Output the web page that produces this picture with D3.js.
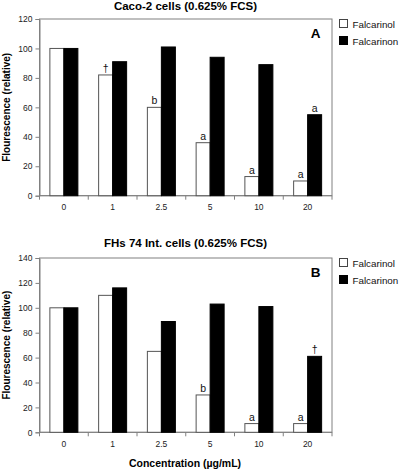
<!DOCTYPE html>
<html>
<head>
<meta charset="utf-8">
<script src="https://cdn.jsdelivr.net/npm/d3@7"></script>
<style>
  html, body { margin: 0; padding: 0; background: #fff; }
  svg { display: block; font-family: Arial, "Liberation Sans", sans-serif; }
</style>
</head>
<body>
<svg id="chart" width="400" height="471"></svg>
<script>
const categories = ["0", "1", "2.5", "5", "10", "20"];
const seriesNames = ["Falcarinol", "Falcarinon"];

const panelATitle = "Caco-2 cells (0.625% FCS)";
const panelAFalcarinol = [100, 82, 60, 36, 13, 10];
const panelAFalcarinon = [100, 91, 101, 94, 89, 55];
const panelAFalcarinolMarks = ["", "†", "b", "a", "a", "a"];
const panelAFalcarinonMarks = ["", "", "", "", "", "a"];
const panelAYTicks = [0, 20, 40, 60, 80, 100, 120];

const panelBTitle = "FHs 74 Int. cells (0.625% FCS)";
const panelBFalcarinol = [100, 110, 65, 30, 7, 7];
const panelBFalcarinon = [100, 116, 89, 103, 101, 61];
const panelBFalcarinolMarks = ["", "", "", "b", "a", "a"];
const panelBFalcarinonMarks = ["", "", "", "", "", "†"];
const panelBYTicks = [0, 20, 40, 60, 80, 100, 120, 140];

const svg = d3.select("#chart");
const left = 39.5, right = 332;
const frameColor = "#808080";

function drawPanel(cfg) {
  const g = svg.append("g");
  const x = d3.scaleBand().domain(categories).range([left, right]).paddingInner(0).paddingOuter(0);
  const y = d3.scaleLinear().domain([0, d3.max(cfg.yTicks)]).range([cfg.bottom, cfg.top]);
  const bw = 14;

  g.append("rect").attr("x", left).attr("y", cfg.top)
    .attr("width", right - left).attr("height", cfg.bottom - cfg.top)
    .attr("fill", "none").attr("stroke", frameColor).attr("stroke-width", 1);

  const yAxis = d3.axisLeft(y).tickValues(cfg.yTicks).tickSize(4).tickPadding(3);
  const ya = g.append("g").attr("transform", `translate(${left},0)`).call(yAxis);
  ya.select(".domain").attr("stroke", frameColor);
  ya.selectAll(".tick line").attr("stroke", frameColor);
  ya.selectAll(".tick text").attr("font-size", 8.5).attr("fill", "#222").attr("font-family", "Arial, 'Liberation Sans', sans-serif");

  const xa = g.append("g").attr("transform", `translate(0,${cfg.bottom})`);
  xa.append("line").attr("x1", left).attr("x2", right).attr("stroke", frameColor);
  const bounds = categories.map(c => x(c)).concat([x(categories[categories.length - 1]) + x.bandwidth()]);
  xa.selectAll("line.tk").data(bounds).enter().append("line").attr("class", "tk")
    .attr("x1", d => d).attr("x2", d => d).attr("y1", 0).attr("y2", 4).attr("stroke", frameColor);
  xa.selectAll("text").data(categories).enter().append("text")
    .attr("x", d => x(d) + x.bandwidth() / 2).attr("y", 14.5)
    .attr("text-anchor", "middle").attr("font-size", 8.5).attr("fill", "#222").text(d => d);

  const mid = c => x(c) + x.bandwidth() / 2;
  g.selectAll("rect.fl").data(categories).enter().append("rect").attr("class", "fl")
    .attr("x", (c) => mid(c) - bw).attr("width", bw)
    .attr("y", (c, i) => y(cfg.fl[i])).attr("height", (c, i) => y(0) - y(cfg.fl[i]))
    .attr("fill", "#fff").attr("stroke", "#555").attr("stroke-width", 1);
  g.selectAll("rect.fn").data(categories).enter().append("rect").attr("class", "fn")
    .attr("x", (c) => mid(c)).attr("width", bw)
    .attr("y", (c, i) => y(cfg.fn[i])).attr("height", (c, i) => y(0) - y(cfg.fn[i]))
    .attr("fill", "#000").attr("stroke", "#000").attr("stroke-width", 1);

  g.selectAll("text.afl").data(categories).enter().append("text").attr("class", "afl")
    .attr("x", c => mid(c) - bw / 2).attr("y", (c, i) => y(cfg.fl[i]) - 3)
    .attr("text-anchor", "middle").attr("font-size", 10.5).attr("fill", "#111")
    .text((c, i) => cfg.flMarks[i]);
  g.selectAll("text.afn").data(categories).enter().append("text").attr("class", "afn")
    .attr("x", c => mid(c) + bw / 2).attr("y", (c, i) => y(cfg.fn[i]) - 3)
    .attr("text-anchor", "middle").attr("font-size", 10.5).attr("fill", "#111")
    .text((c, i) => cfg.fnMarks[i]);

  g.append("text").attr("x", 185.5).attr("y", cfg.titleY).attr("text-anchor", "middle")
    .attr("font-size", 11.5).attr("font-weight", "bold").text(cfg.title);

  g.append("text").attr("x", 315.5).attr("y", cfg.top + 18.5).attr("text-anchor", "middle")
    .attr("font-size", 13.5).attr("font-weight", "bold").text(cfg.letter);

  g.append("text").attr("transform", `translate(10,${(cfg.top + cfg.bottom) / 2}) rotate(-90)`)
    .attr("text-anchor", "middle").attr("font-size", 10).attr("font-weight", "bold")
    .text("Flourescence (relative)");

  const lg = g.append("g").attr("transform", `translate(339.5,${cfg.top})`);
  seriesNames.forEach((s, i) => {
    lg.append("rect").attr("x", 0).attr("y", i * 17 + 0.5).attr("width", 8).attr("height", 8)
      .attr("fill", i === 0 ? "#fff" : "#000").attr("stroke", i === 0 ? "#444" : "#000");
    lg.append("text").attr("x", 13).attr("y", i * 17 + 8.5).attr("font-size", 9.8).attr("fill", "#111").text(s);
  });
}

drawPanel({ title: panelATitle, titleY: 9.5, letter: "A", top: 19, bottom: 195.7, yTicks: panelAYTicks,
  fl: panelAFalcarinol, fn: panelAFalcarinon, flMarks: panelAFalcarinolMarks, fnMarks: panelAFalcarinonMarks });
drawPanel({ title: panelBTitle, titleY: 247, letter: "B", top: 258, bottom: 432.3, yTicks: panelBYTicks,
  fl: panelBFalcarinol, fn: panelBFalcarinon, flMarks: panelBFalcarinolMarks, fnMarks: panelBFalcarinonMarks });

svg.append("text").attr("x", 185).attr("y", 466.5).attr("text-anchor", "middle")
  .attr("font-size", 10.5).attr("font-weight", "bold").text("Concentration (µg/mL)");
</script>
</body>
</html>
